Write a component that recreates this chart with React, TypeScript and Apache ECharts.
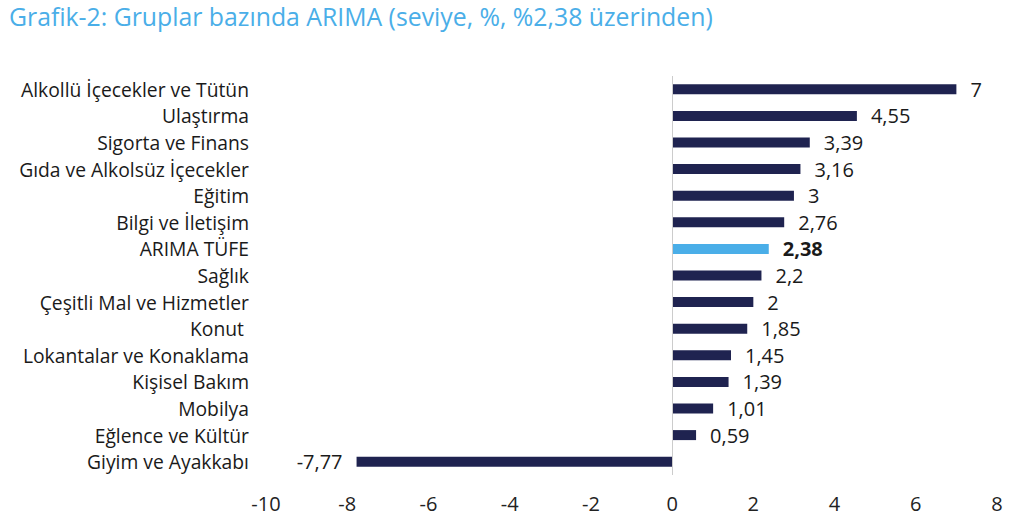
import React, { useEffect, useRef } from "react";
import * as echarts from "echarts";

const TITLE = "Grafik-2: Gruplar bazında ARIMA (seviye, %, %2,38 üzerinden)";
const categories = [
  "Alkollü İçecekler ve Tütün",
  "Ulaştırma",
  "Sigorta ve Finans",
  "Gıda ve Alkolsüz İçecekler",
  "Eğitim",
  "Bilgi ve İletişim",
  "ARIMA TÜFE",
  "Sağlık",
  "Çeşitli Mal ve Hizmetler",
  "Konut ",
  "Lokantalar ve Konaklama",
  "Kişisel Bakım",
  "Mobilya",
  "Eğlence ve Kültür",
  "Giyim ve Ayakkabı",
];
const values = [7, 4.55, 3.39, 3.16, 3, 2.76, 2.38, 2.2, 2, 1.85, 1.45, 1.39, 1.01, 0.59, -7.77];
const HIGHLIGHT = "ARIMA TÜFE";
const X_MIN = -10;
const X_MAX = 8;
const X_STEP = 2;

const FONT = "'Open Sans', 'Noto Sans', sans-serif";
const NAVY = "#1f2350";
const BLUE = "#4aaee8";

export default function App() {
  const ref = useRef<HTMLDivElement>(null);
  useEffect(() => {
    if (!ref.current) return;
    const chart = echarts.init(ref.current, undefined, { renderer: "svg" });
    const fmt = (v: number) => String(v).replace(".", ",");
    chart.setOption({
      animation: false,
      textStyle: { fontFamily: FONT },
      title: {
        text: TITLE,
        left: 4,
        top: 0,
        padding: [0, 5, 0, 5],
        textStyle: { fontFamily: FONT, fontSize: 24.8, lineHeight: 32, fontWeight: "normal", color: BLUE },
      },
      grid: { left: 266, right: 27, top: 76, bottom: 43, containLabel: false },
      xAxis: {
        type: "value",
        min: X_MIN,
        max: X_MAX,
        interval: X_STEP,
        axisLine: { show: false },
        axisTick: { show: false },
        splitLine: { show: false },
        axisLabel: { fontFamily: FONT, fontSize: 20, color: "#222", margin: 18 },
      },
      yAxis: {
        type: "category",
        inverse: true,
        data: categories,
        axisLine: { show: false },
        axisTick: { show: false },
        axisLabel: { fontFamily: FONT, fontSize: 19.3, color: "#1a1a1a", margin: 17 },
      },
      series: [
        {
          type: "bar",
          barWidth: 10,
          data: categories.map((c, i) => {
            const hl = c === HIGHLIGHT;
            return {
              value: values[i],
              itemStyle: { color: hl ? BLUE : NAVY },
              label: {
                show: true,
                position: values[i] >= 0 ? "right" : "left",
                distance: 14,
                fontFamily: FONT,
                fontSize: 20,
                color: "#1a1a1a",
                fontWeight: hl ? "bold" : "normal",
                formatter: () => fmt(values[i]),
              },
            };
          }),
          markLine: {
            silent: true,
            symbol: "none",
            label: { show: false },
            lineStyle: { color: "#cccccc", width: 1, type: "solid" },
            data: [{ xAxis: 0 }],
          },
        },
      ],
    });
    return () => chart.dispose();
  }, []);
  return (
    <div
      ref={ref}
      style={{ position: "fixed", left: 0, top: 0, width: 1024, height: 518, background: "#fff" }}
    />
  );
}
